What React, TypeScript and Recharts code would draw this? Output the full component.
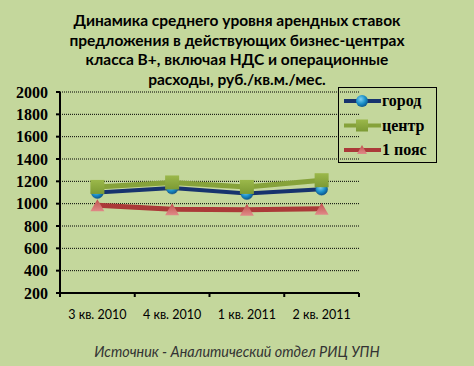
import React from "react";
import { LineChart, Line, XAxis, YAxis, CartesianGrid, Legend } from "recharts";

const categories = ["3 кв. 2010", "4 кв. 2010", "1 кв. 2011", "2 кв. 2011"];
const gorod = [1100, 1140, 1090, 1130];
const centr = [1150, 1190, 1150, 1210];
const poyas = [985, 950, 945, 955];
const yTicks = [200, 400, 600, 800, 1000, 1200, 1400, 1600, 1800, 2000];
const seriesOrder = ["gorod", "centr", "poyas"];

const titleLines = [
  "Динамика среднего уровня арендных ставок",
  "предложения в действующих бизнес-центрах",
  "класса В+, включая НДС и операционные",
  "расходы, руб./кв.м./мес.",
];
const sourceText = "Источник - Аналитический отдел РИЦ УПН";

const data = categories.map((c, i) => ({
  pos: i + 0.5,
  label: c,
  gorod: gorod[i],
  centr: centr[i],
  poyas: poyas[i],
}));

const xTicks: number[] = [];
for (let i = 0; i <= categories.length; i++) {
  xTicks.push(i);
  if (i < categories.length) xTicks.push(i + 0.5);
}

const BG = "#c4d79c";

const CircleDot = (props: any) => {
  const { cx, cy } = props;
  if (cx == null || cy == null) return null;
  return <circle cx={cx} cy={cy} r={6} fill="url(#gBlue)" stroke="#1a5a8a" strokeWidth={0.5} />;
};
const SquareDot = (props: any) => {
  const { cx, cy } = props;
  if (cx == null || cy == null) return null;
  return <rect x={cx - 7} y={cy - 7} width={14} height={14} fill="url(#gGreen)" />;
};
const TriDot = (props: any) => {
  const { cx, cy } = props;
  if (cx == null || cy == null) return null;
  return (
    <polygon
      points={`${cx},${cy - 6} ${cx + 7},${cy + 6} ${cx - 7},${cy + 6}`}
      fill="url(#gRed)"
    />
  );
};

const XTick = (props: any) => {
  const { x, y, payload } = props;
  const v = payload.value as number;
  if (Number.isInteger(v)) {
    return <line x1={x} x2={x} y1={y - 8} y2={y - 4} stroke="#000" strokeWidth={2} />;
  }
  const idx = Math.floor(v);
  return (
    <text x={x} y={y + 18} textAnchor="middle" fontFamily="Lato, sans-serif" fontSize={12.5} fill="#000">
      {categories[idx]}
    </text>
  );
};

const legendMarkers: Record<string, (x: number, y: number) => React.ReactNode> = {
  gorod: (x, y) => <circle cx={x} cy={y} r={6} fill="url(#gBlue)" />,
  centr: (x, y) => <rect x={x - 6} y={y - 6} width={12} height={12} fill="url(#gGreen)" />,
  poyas: (x, y) => (
    <polygon points={`${x},${y - 5} ${x + 5},${y + 4} ${x - 5},${y + 4}`} fill="url(#gRed)" />
  ),
};

const LegendContent = (props: any) => {
  const payload = [...(props.payload || [])].sort(
    (a: any, b: any) => seriesOrder.indexOf(a.dataKey) - seriesOrder.indexOf(b.dataKey)
  );
  return (
    <div
      style={{
        width: 99,
        height: 76,
        border: "1px solid #000",
        boxSizing: "border-box",
      }}
    >
      <svg width={97} height={74} style={{ display: "block" }}>
        {payload.map((p: any, i: number) => {
          const y = 13 + i * 24.5;
          return (
            <g key={p.dataKey}>
              <line x1={5} x2={42} y1={y} y2={y} stroke={p.color} strokeWidth={4} />
              {legendMarkers[p.dataKey](23, y)}
              <text
                x={43}
                y={y + 5}
                fontFamily="'Liberation Serif', 'Times New Roman', serif"
                fontSize={16}
                fontWeight={700}
                fill="#000"
              >
                {p.value}
              </text>
            </g>
          );
        })}
      </svg>
    </div>
  );
};

export default function App() {
  return (
    <div
      style={{
        position: "absolute",
        left: 0,
        top: 0,
        width: 474,
        height: 366,
        background: BG,
        overflow: "hidden",
      }}
    >
      <div
        style={{
          position: "absolute",
          left: 0,
          top: 11,
          width: 474,
          textAlign: "center",
          fontFamily: "Lato, sans-serif",
          fontWeight: 700,
          fontSize: 15.5,
          lineHeight: "19.5px",
          color: "#000",
        }}
      >
        {titleLines.map((l) => (
          <div key={l}>{l}</div>
        ))}
      </div>
      <div style={{ position: "absolute", left: 0, top: 0 }}>
        <LineChart
          width={474}
          height={366}
          data={data}
          margin={{ top: 92, right: 16, bottom: 43, left: 10 }}
        >
          <defs>
            <radialGradient id="gBlue" cx="40%" cy="35%" r="65%">
              <stop offset="0%" stopColor="#7fd0f0" />
              <stop offset="60%" stopColor="#1a8fc8" />
              <stop offset="100%" stopColor="#0d5a90" />
            </radialGradient>
            <linearGradient id="gGreen" x1="0" y1="0" x2="0" y2="1">
              <stop offset="0%" stopColor="#9bb84a" />
              <stop offset="100%" stopColor="#7c9a34" />
            </linearGradient>
            <linearGradient id="gRed" x1="0" y1="0" x2="0" y2="1">
              <stop offset="0%" stopColor="#c0504d" />
              <stop offset="100%" stopColor="#e08a88" />
            </linearGradient>
          </defs>
          <CartesianGrid
            horizontal
            vertical={false}
            stroke="#000"
            strokeDasharray="1 1"
            strokeWidth={1}
          />
          <XAxis
            dataKey="pos"
            type="number"
            domain={[0, categories.length]}
            ticks={xTicks}
            interval={0}
            tick={<XTick />}
            tickLine={false}
            axisLine={{ stroke: "#000", strokeWidth: 2 }}
            height={30}
          />
          <YAxis
            domain={[200, 2000]}
            ticks={yTicks}
            interval={0}
            width={50}
            tickSize={4}
            tickLine={{ stroke: "#000", strokeWidth: 2 }}
            axisLine={{ stroke: "#000", strokeWidth: 2 }}
            tick={{
              fill: "#000",
              fontFamily: "'Liberation Serif', 'Times New Roman', serif",
              fontSize: 16,
              fontWeight: 700,
              dx: -6,
            }}
          />
          <Legend
            layout="vertical"
            verticalAlign="top"
            align="right"
            content={<LegendContent />}
            wrapperStyle={{ position: "absolute", left: 338, top: 87, width: 99, height: 76 }}
          />
          <Line
            dataKey="gorod"
            name="город"
            stroke="#17336e"
            strokeWidth={4}
            dot={<CircleDot />}
            activeDot={false}
            isAnimationActive={false}
          />
          <Line
            dataKey="centr"
            name="центр"
            stroke="#86a23a"
            strokeWidth={5}
            dot={<SquareDot />}
            activeDot={false}
            isAnimationActive={false}
          />
          <Line
            dataKey="poyas"
            name="1 пояс"
            stroke="#ab3a38"
            strokeWidth={5}
            dot={<TriDot />}
            activeDot={false}
            isAnimationActive={false}
          />
        </LineChart>
      </div>
      <div
        style={{
          position: "absolute",
          left: 0,
          top: 343,
          width: 474,
          textAlign: "center",
          fontFamily: "Lato, sans-serif",
          fontStyle: "italic",
          fontSize: 14.4,
          color: "#333",
        }}
      >
        {sourceText}
      </div>
    </div>
  );
}
